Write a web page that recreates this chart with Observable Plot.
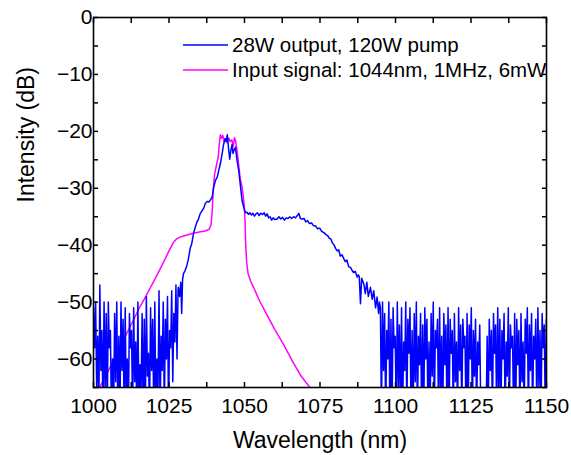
<!DOCTYPE html>
<html><head><meta charset="utf-8">
<script src="https://cdn.jsdelivr.net/npm/d3@7"></script>
<script src="https://cdn.jsdelivr.net/npm/@observablehq/plot@0.6"></script>
<style>body{margin:0;background:#fff} svg{display:block}</style>
</head><body><div id="chart"></div>
<script>
// ---- data ----
const xTicksMajor = [1000, 1025, 1050, 1075, 1100, 1125, 1150];
const xTicksAll = [1000, 1012.5, 1025, 1037.5, 1050, 1062.5, 1075, 1087.5, 1100, 1112.5, 1125, 1137.5, 1150];
const yTicksMajor = [-60, -50, -40, -30, -20, -10, 0];
const yTicksAll = [-65, -60, -55, -50, -45, -40, -35, -30, -25, -20, -15, -10, -5, 0];
const legendLabels = ["28W output, 120W pump", "Input signal: 1044nm, 1MHz, 6mW"];
const seriesColors = ["#0000ff", "#ff00ff"];

// output spectrum: noise floor left (regular wavelength grid)
const leftNoiseStart = 1000, leftNoiseStep = 0.35;
const leftNoise = [-51,-58,-50,-65,-56,-70,-47,-62,-55,-70,-50,-66,-52,-70,-50,-58,-55,-70,-60,-70,
  -52,-64,-50,-70,-56,-70,-50,-62,-53,-70,-51,-68,-60,-70,-52,-58,-55,-70,-51,-64,
  -57,-70,-50,-70,-61,-66,-52,-70,-53,-70,-49,-63,-59,-70,-51,-62,-53,-70,-50,-70,
  -60,-66,-48,-70,-56,-62,-50,-70,-53,-60,-49,-70,-55,-58,-48,-64,-52,-57,-47,-60,-48];

// output spectrum: main body
const outputWl = [1028.1,1028.5,1028.9,1029.2,1029.5,1029.8,1030.3,1030.9,1031.4,1032.0,1032.5,1033.1,1033.6,1034.2,1034.7,1035.3,1036.0,1036.5,1037.0,1037.6,
  1038.2,1038.8,1039.3,1039.8,1040.4,1041.0,1041.5,1042.0,1042.6,1043.0,1043.5,1043.9,1044.3,1044.8,1045.1,1045.4,1045.9,1046.2,1046.6,1047.0,
  1047.5,1048.1,1048.7,1049.2,1049.7,1050.3,1050.8,1051.3,1051.8,1052.3,1052.8,1053.3,1053.8,1054.3,1054.8,1055.4,1056.0,1056.5,1057.0,1057.5,
  1058.0,1058.5,1059.0,1059.5,1060.0,1060.8,1061.4,1062.0,1062.6,1063.2,1063.8,1064.4,1065.0,1065.6,1066.3,1066.9,1067.5,1068.0,1068.5,1069.1,
  1069.7,1070.3,1070.9,1071.5,1072.2,1072.9,1073.5,1074.2,1074.9,1075.6,1076.3,1076.9,1077.5,1078.1,1078.6,1079.1,1079.6,1080.2,1080.7,1081.2,
  1081.7,1082.3,1082.9,1083.4,1083.9,1084.5,1085.1,1085.6,1086.1,1086.7,1087.3,1087.7,
  1088.0,1088.4,1088.8,1089.5,1090.0,1090.5,1091.0,1091.7,1092.3,1092.8,1093.4,1093.9,1094.4,1094.7];
const outputDb = [-47.4,-49,-46.5,-52,-46,-45,-44.5,-43.6,-42.5,-40.6,-39.8,-38,-37,-36,-35.5,-34.5,-33.9,-33.5,-32.7,-32.3,
  -32.4,-32.0,-31.5,-29.8,-28.6,-28.0,-26.8,-25.7,-23.9,-22.5,-21.3,-21.8,-20.6,-23.4,-24.9,-23.6,-22.3,-23.9,-23.2,-22.8,
  -25,-26.9,-29.8,-32.2,-33.2,-34.3,-34.2,-34.6,-34.3,-34.7,-34.4,-34.9,-34.5,-34.3,-34.8,-34.4,-34.6,-34.3,-34.9,-34.5,
  -35.2,-35.0,-35.6,-35.2,-35.5,-35.4,-35.0,-35.4,-35.1,-35.6,-35.2,-35.3,-35.0,-35.3,-35.0,-35.2,-34.8,-34.4,-35.3,-35.4,
  -35.3,-35.9,-35.7,-36.2,-36.1,-36.6,-36.6,-37.1,-37.0,-37.6,-37.8,-38.1,-38.3,-38.8,-38.9,-39.6,-39.9,-40.6,-41.0,-40.8,
  -41.9,-41.7,-42.4,-42.9,-42.6,-43.8,-43.9,-44.4,-44.8,-44.6,-45.6,-45.2,
  -45.5,-50.3,-45.8,-46.8,-48.5,-46.5,-49,-47.4,-49.5,-48,-51,-49.1,-52,-50];

// output spectrum: noise floor right (regular wavelength grid)
const rightNoiseStart = 1095.0, rightNoiseStep = 0.35;
const rightNoise = [-51,-70,-50,-62,-52,-70,-55,-60,-50,-70,
  -53,-70,-51,-58,-56,-70,-50,-65,-54,-70,
  -51,-70,-57,-62,-50,-70,-53,-59,-51,-70,
  -55,-70,-52,-64,-50,-70,-56,-61,-52,-70,
  -54,-70,-51,-60,-53,-70,-57,-70,-52,-63,
  -50,-70,-55,-58,-53,-70,-51,-66,-56,-70,
  -52,-61,-54,-70,-51,-70,-53,-59,-55,-70,
  -52,-64,-57,-70,-51,-62,-54,-70,-53,-58,
  -56,-70,-52,-70,-54,-60,-51,-70,-55,-63,
  -53,-70,-57,-61,-54,-70,-70,-70,-70,-70,
  -70,-56,-70,-53,-62,-55,-70,-52,-59,-54,
  -70,-51,-66,-53,-70,-55,-60,-52,-70,-57,
  -63,-51,-70,-54,-58,-56,-70,-52,-70,-53,
  -61,-55,-70,-52,-64,-57,-70,-53,-59,-51,
  -70,-54,-62,-52,-70,-56,-60,-53,-70,-51,
  -65,-55,-70,-52,-58,-54,-70,-53,-60];

// input signal spectrum
const inputWl = [1001.8,1003,1005,1007,1009,1011,1013,1015,1017,1019,1021,1023,1025,1026.5,1027.5,1029,1031,1033,1035,1037,
  1038.3,1038.9,1039.3,1039.7,1040.1,1040.5,1040.9,1041.3,1041.7,1042.0,1042.4,1042.8,1043.3,1043.8,1044.3,1044.8,1045.3,1045.8,1046.3,1046.7,
  1047.1,1047.6,1048.1,1048.6,1049.1,1049.5,1049.9,1050.2,1050.4,1050.7,1051.2,1052,1053,1055,1057.5,1060,1063,1066,1068.5,1070.5,1072];
const inputDb = [-65.2,-64,-62,-59.8,-57.5,-55.5,-53.4,-51.2,-49.3,-47.3,-45.3,-43.2,-41,-39.5,-38.9,-38.5,-38.2,-37.9,-37.7,-37.5,
  -37.2,-36.5,-34,-30,-27.5,-26.5,-25.5,-24.5,-22,-20.6,-21.2,-20.7,-21.7,-21.3,-22,-21.2,-21.8,-21.5,-22.6,-21.1,
  -21.8,-23.6,-26,-28.4,-29.5,-31,-33,-36,-40,-43,-45,-46.3,-47.4,-49.8,-52.3,-54.8,-57.5,-60.5,-62.8,-64.2,-65.2];

// ---- tables ----
const output = [
  ...leftNoise.map((v, i) => ({wl: leftNoiseStart + i * leftNoiseStep, db: v})),
  ...outputWl.map((w, i) => ({wl: w, db: outputDb[i]})),
  ...rightNoise.map((v, i) => ({wl: rightNoiseStart + i * rightNoiseStep, db: v}))
];
const input = inputWl.map((w, i) => ({wl: w, db: inputDb[i]}));

const font = "'Liberation Sans', Arial, sans-serif";

const chart = Plot.plot({
  width: 571, height: 455,
  marginLeft: 93, marginRight: 25, marginTop: 17, marginBottom: 68,
  style: {fontFamily: font, background: "#fff", color: "#000"},
  x: {domain: [1000, 1150]},
  y: {domain: [-65, 0]},
  marks: [
    Plot.line(input, {x: "wl", y: "db", stroke: seriesColors[1], strokeWidth: 1.5, clip: true}),
    Plot.line(output, {x: "wl", y: "db", stroke: seriesColors[0], strokeWidth: 1.5, clip: true}),
    Plot.frame({stroke: "#000", strokeWidth: 1.6}),
    Plot.axisX({ticks: xTicksMajor, tickSize: 0, tickPadding: 11, fontSize: 21, label: null, tickFormat: d => String(d)}),
    Plot.axisX({ticks: xTicksAll, anchor: "bottom", tickSize: -5, strokeWidth: 1.5, tickFormat: () => "", label: null}),
    Plot.axisX({ticks: xTicksAll, anchor: "top", tickSize: -5, strokeWidth: 1.5, tickFormat: () => "", label: null}),
    Plot.axisY({ticks: yTicksMajor, tickSize: 0, tickPadding: 1, fontSize: 21, label: null}),
    Plot.axisY({ticks: yTicksAll, anchor: "left", tickSize: -5, strokeWidth: 1.5, tickFormat: () => "", label: null}),
    Plot.axisY({ticks: yTicksAll, anchor: "right", tickSize: -5, strokeWidth: 1.5, tickFormat: () => "", label: null}),
    Plot.text(["Wavelength (nm)"], {frameAnchor: "bottom", dy: 60, fontSize: 23, fill: "#000"}),
    Plot.text(["Intensity (dB)"], {frameAnchor: "left", dx: -67, rotate: -90, fontSize: 23, fill: "#000"})
  ]
});

// legend inside the plot area
const svg = d3.select(chart);
const lg = svg.append("g").attr("font-family", font).attr("font-size", 20.5).attr("text-anchor", "start");
legendLabels.forEach((t, i) => {
  const y = 45 + i * 25;
  lg.append("line").attr("x1", 183).attr("x2", 228).attr("y1", y).attr("y2", y)
    .attr("stroke", seriesColors[i]).attr("stroke-width", 1.5);
  lg.append("text").attr("x", 232).attr("y", y).attr("dy", "0.35em").attr("fill", "#000")
    .attr("text-anchor", "start").text(t);
});

document.getElementById("chart").appendChild(chart);
</script>
</body></html>
